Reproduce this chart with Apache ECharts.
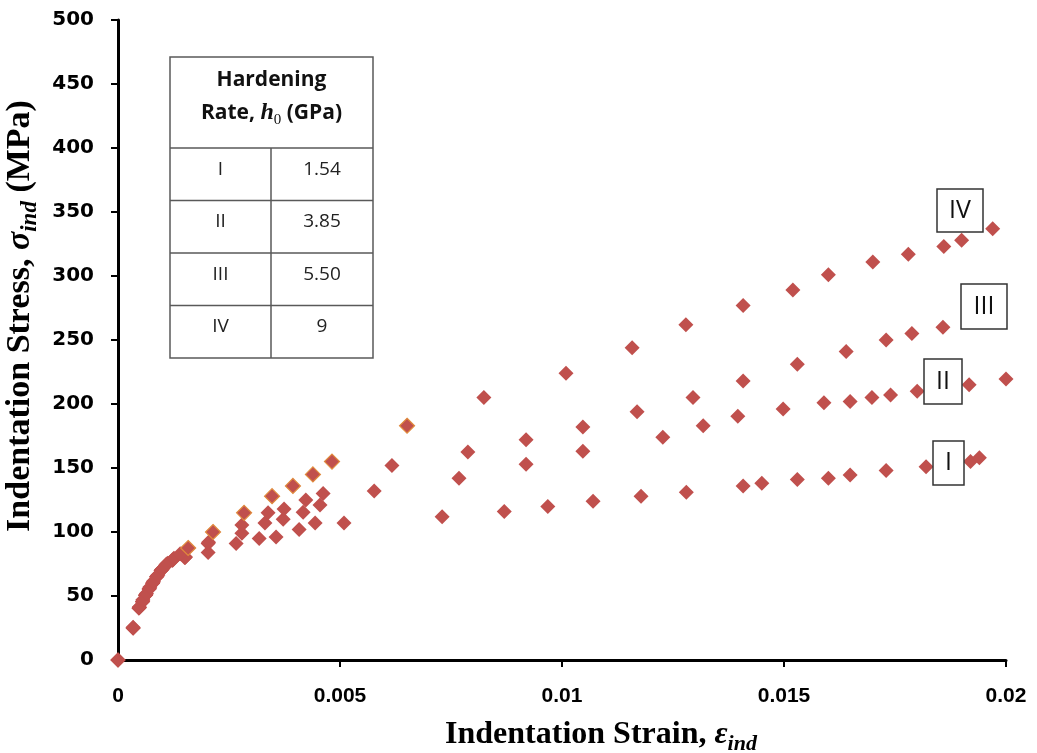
<!DOCTYPE html>
<html>
<head>
<meta charset="utf-8">
<script src="https://cdn.jsdelivr.net/npm/echarts@6/dist/echarts.min.js"></script>
<style>
html,body{margin:0;padding:0;background:#fff;}
#chart{width:1037px;height:753px;}
</style>
</head>
<body>
<div id="chart"></div>
<script>
// ---- Data ----
const xTicks = [0, 0.005, 0.01, 0.015, 0.02];
const yTicks = [0, 50, 100, 150, 200, 250, 300, 350, 400, 450, 500];

const seriesNames = ['I', 'II', 'III', 'IV'];

const strainI = [0, 0.00034, 0.00047, 0.00055, 0.00062, 0.00070, 0.00078, 0.00087, 0.00097, 0.00109, 0.00123, 0.00151, 0.00203, 0.00266, 0.00318, 0.00356, 0.00408, 0.00444, 0.00509, 0.0073, 0.0087, 0.00968, 0.0107, 0.01178, 0.0128, 0.01408, 0.0145, 0.0153, 0.0160, 0.01649, 0.0173, 0.0182, 0.0192, 0.0194];
const stressI = [0, 25, 40.5, 45.5, 50.5, 55.5, 60, 65, 70, 74.5, 78, 80, 84, 91, 95, 96, 102, 107, 107, 112, 116, 120, 124, 128, 131, 136, 138, 141, 142, 144.5, 148, 151, 155, 158];

const strainII = [0, 0.00034, 0.00048, 0.00055, 0.00062, 0.00070, 0.00078, 0.00087, 0.00097, 0.00108, 0.00122, 0.00150, 0.00203, 0.00279, 0.00331, 0.00372, 0.00417, 0.00455, 0.00577, 0.00768, 0.00919, 0.01047, 0.01227, 0.01318, 0.01396, 0.01498, 0.0159, 0.01649, 0.01698, 0.0174, 0.0180, 0.01917, 0.0200];
const stressII = [0, 25, 41, 45.5, 50.5, 55.5, 60, 65, 70, 74.5, 78, 80, 91, 99, 107, 110, 115.5, 121, 132, 142, 153, 163, 174, 183, 190.5, 196, 201, 202, 205, 207, 210, 215, 219.5];

const strainIII = [0, 0.00034, 0.00048, 0.00056, 0.00063, 0.00071, 0.00079, 0.00088, 0.00098, 0.00110, 0.00124, 0.00152, 0.00204, 0.00279, 0.00338, 0.00374, 0.00423, 0.00462, 0.00617, 0.00788, 0.00919, 0.01047, 0.01169, 0.01295, 0.01408, 0.0153, 0.0164, 0.0173, 0.01788, 0.01858, 0.0197];
const stressIII = [0, 25, 41, 46, 51, 56, 60.5, 65.5, 70.5, 75, 78.5, 80.5, 92, 105.5, 115, 118, 125, 130, 152, 162.5, 172, 182, 194, 205, 218, 231, 241, 250, 255, 260, 268];

const strainIV = [0, 0.00034, 0.00048, 0.00056, 0.00064, 0.00072, 0.00080, 0.00090, 0.00100, 0.00112, 0.00126, 0.00140, 0.00158, 0.00214, 0.00284, 0.00347, 0.00394, 0.00439, 0.00482, 0.00651, 0.00824, 0.01009, 0.01158, 0.01279, 0.01408, 0.0152, 0.0160, 0.0170, 0.0178, 0.0186, 0.0190, 0.0197];
const stressIV = [0, 25.5, 41.5, 47, 52, 57, 61.5, 66.5, 71, 75.5, 79.5, 83, 87.5, 100, 115, 128, 136, 145, 155, 183, 205, 224, 244, 262, 277, 289, 301, 311, 317, 323, 328, 337];

const tableHeader1 = 'Hardening';
const tableRows = ['I', 'II', 'III', 'IV'];
const tableValues = ['1.54', '3.85', '5.50', '9'];

// ---- Chart ----
const RED = '#C0504D';
const chart = echarts.init(document.getElementById('chart'), null, {renderer: 'canvas'});

const strains = [strainI, strainII, strainIII, strainIV];
const stresses = [stressI, stressII, stressIII, stressIV];

const series = seriesNames.map((nm, k) => ({
  name: nm,
  type: 'scatter',
  symbol: 'diamond',
  symbolSize: [15, 15],
  z: 2 + k,
  itemStyle: {color: RED, opacity: 1},
  data: strains[k].map((x, i) => {
    const d = {value: [x, stresses[k][i]]};
    if (k === 3 && x > 0.0015 && x < 0.007) {
      d.itemStyle = {borderColor: '#E08A3C', borderWidth: 1.2};
    }
    return d;
  }),
  animation: false
}));

const serifBold = "'Liberation Serif', 'Times New Roman', serif";
function nameRich(fs) {
  return {
    a: {fontFamily: serifBold, fontWeight: 'bold', fontSize: fs, color: '#000', lineHeight: fs + 8},
    g: {fontFamily: serifBold, fontWeight: 'bold', fontStyle: 'italic', fontSize: fs, color: '#000', lineHeight: fs + 8},
    s: {fontFamily: serifBold, fontWeight: 'bold', fontStyle: 'italic', fontSize: Math.round(fs * 0.68), color: '#000', lineHeight: Math.round(fs * 0.68), verticalAlign: 'bottom'}
  };
}

// table graphic
const TX = 170, TY = 57, TW = 203, TH = 301;
const headerH = 91, rowH = 52.5, colX = 101;
const tableEls = [
  {type: 'rect', z: 50, shape: {x: 0, y: 0, width: TW, height: TH}, style: {fill: '#fff', stroke: '#595959', lineWidth: 1.5}},
  {type: 'line', z: 51, shape: {x1: colX, y1: headerH, x2: colX, y2: TH}, style: {stroke: '#595959', lineWidth: 1.5}}
];
for (let r = 0; r < tableRows.length; r++) {
  const y = headerH + r * rowH;
  tableEls.push({type: 'line', z: 51, shape: {x1: 0, y1: y, x2: TW, y2: y}, style: {stroke: '#595959', lineWidth: 1.5}});
  tableEls.push({type: 'text', z: 52, x: colX / 2, y: y + rowH / 2 - 5, style: {text: tableRows[r], font: "19px 'Open Sans', sans-serif", fill: '#222', align: 'center', verticalAlign: 'middle'}});
  tableEls.push({type: 'text', z: 52, x: (colX + TW) / 2, y: y + rowH / 2 - 5, style: {text: tableValues[r], font: "19px 'Open Sans', sans-serif", fill: '#222', align: 'center', verticalAlign: 'middle'}});
}
tableEls.push({type: 'text', z: 52, x: TW / 2, y: 23, style: {text: tableHeader1, font: "bold 21px 'Open Sans', sans-serif", fill: '#111', align: 'center', verticalAlign: 'middle'}});
tableEls.push({type: 'text', z: 52, x: TW / 2, y: 56, style: {
  text: '{b|Rate, }{h|h}{s|0}{b| (GPa)}',
  align: 'center', verticalAlign: 'middle',
  rich: {
    b: {font: "bold 21px 'Open Sans', sans-serif", fill: '#111', lineHeight: 30},
    h: {font: "bold italic 24px 'Liberation Serif', serif", fill: '#111', lineHeight: 30},
    s: {font: "15px 'Liberation Serif', serif", fill: '#111', lineHeight: 16, verticalAlign: 'bottom'}
  }
}});

// curve label boxes
const boxes = [
  {t: 'IV', x: 937, y: 189, w: 46, h: 43},
  {t: 'III', x: 961, y: 284, w: 46, h: 45},
  {t: 'II', x: 924, y: 359, w: 38, h: 45},
  {t: 'I', x: 933, y: 441, w: 31, h: 44}
];
const boxEls = boxes.map(b => ({
  type: 'group', x: b.x, y: b.y, z: 100,
  children: [
    {type: 'rect', z: 100, shape: {x: 0, y: 0, width: b.w, height: b.h}, style: {fill: '#fff', stroke: '#333', lineWidth: 1.5}},
    {type: 'text', z: 101, x: b.w / 2, y: b.h / 2, style: {text: b.t, font: "25px 'Open Sans', sans-serif", fill: '#111', align: 'center', verticalAlign: 'middle'}}
  ]
}));

const option = {
  backgroundColor: '#fff',
  animation: false,
  grid: {left: 118, right: 31, top: 20, bottom: 93, containLabel: false, outerBoundsMode: 'none'},
  xAxis: {
    type: 'value', min: xTicks[0], max: xTicks[xTicks.length - 1], interval: xTicks[1] - xTicks[0],
    name: '{a|Indentation Strain, }{g|ε}{s|ind}',
    nameLocation: 'middle', nameGap: 55,
    nameTextStyle: {rich: nameRich(32), padding: [0, 0, 0, 78]},
    axisLine: {onZero: false, lineStyle: {color: '#000', width: 3}},
    axisTick: {show: true, length: 7, lineStyle: {color: '#000', width: 2}},
    axisLabel: {margin: 26, color: '#000', fontSize: 21, fontWeight: 'bold', fontFamily: "'Liberation Sans Narrow', 'Liberation Sans', sans-serif",
      formatter: v => String(+v.toFixed(3))},
    splitLine: {show: false}
  },
  yAxis: {
    type: 'value', min: yTicks[0], max: yTicks[yTicks.length - 1], interval: yTicks[1] - yTicks[0],
    name: '{a|Indentation Stress, }{g|σ}{s|ind}{a| (MPa)}',
    nameLocation: 'middle', nameGap: 61, nameRotate: 90,
    nameTextStyle: {rich: nameRich(34), padding: [0, 0, 0, 48]},
    axisLine: {onZero: false, lineStyle: {color: '#000', width: 3}},
    axisTick: {show: true, length: 7, lineStyle: {color: '#000', width: 2}},
    axisLabel: {margin: 24, color: '#000', fontSize: 20, fontWeight: 'bold', fontFamily: "'DejaVu Sans', Verdana, sans-serif"},
    splitLine: {show: false}
  },
  graphic: [
    {type: 'group', x: TX, y: TY, z: 50, children: tableEls}
  ].concat(boxEls),
  series: series
};
chart.setOption(option);
</script>
</body>
</html>
